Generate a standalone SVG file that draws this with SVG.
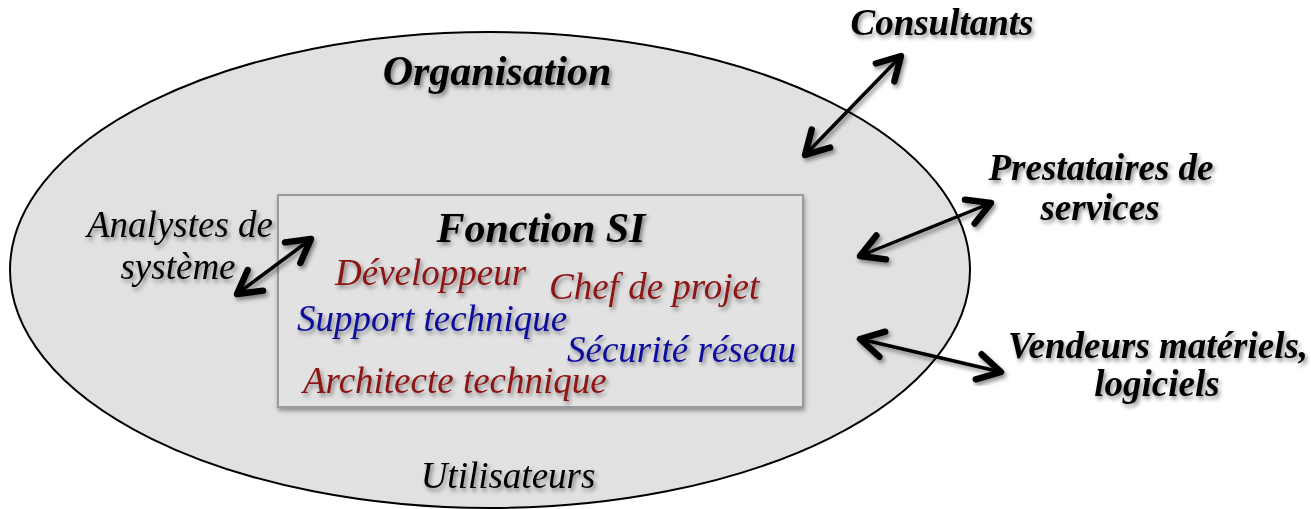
<svg xmlns="http://www.w3.org/2000/svg" width="1311" height="509" viewBox="0 0 1311 509">
<style>
.t{font-family:"Liberation Serif","Times New Roman",serif;font-style:italic;font-size:37px;filter:url(#sh)}
.b{font-weight:bold}
.big{font-size:42px}
.red{fill:#8c1212}
.blue{fill:#0c0c9c}
.blk{fill:#000}
.arr{stroke:#000;stroke-width:3.5;fill:none;marker-start:url(#ah);marker-end:url(#ah);filter:url(#sh)}
</style>
<defs>
<filter id="sh" x="-20%" y="-40%" width="140%" height="180%">
<feDropShadow dx="2" dy="3" stdDeviation="2" flood-color="#000" flood-opacity="0.45"/>
</filter>
<filter id="rsh" x="-5%" y="-5%" width="110%" height="115%">
<feDropShadow dx="1" dy="3" stdDeviation="2" flood-color="#000" flood-opacity="0.35"/>
</filter>
<marker id="ah" markerUnits="userSpaceOnUse" markerWidth="40" markerHeight="40" refX="0" refY="0" viewBox="-22 -14 26 28" orient="auto-start-reverse" overflow="visible">
<path d="M-16,-9 L0,0 L-16,9" fill="none" stroke="#000" stroke-width="4.5" stroke-linecap="round" stroke-linejoin="round"/>
</marker>
</defs>
<g id="organisation">
<ellipse cx="490" cy="270" rx="480" ry="238" fill="#e1e1e1" stroke="#000" stroke-width="2"/>
<text class="t b big blk" x="497" y="85" text-anchor="middle">Organisation</text>
<text class="t blk" x="508" y="488" text-anchor="middle">Utilisateurs</text>
</g>
<g id="fonction-si">
<rect x="278" y="195" width="525" height="212" fill="#e2e2e2" stroke="#9a9a9a" stroke-width="2" filter="url(#rsh)"/>
<text class="t b big blk" x="541" y="242" text-anchor="middle">Fonction SI</text>
<text class="t red" x="335" y="285">Développeur</text>
<text class="t red" x="549" y="299">Chef de projet</text>
<text class="t blue" x="297" y="331">Support technique</text>
<text class="t blue" x="567" y="362">Sécurité réseau</text>
<text class="t red" x="303" y="393">Architecte technique</text>
</g>
<g id="analystes">
<text class="t blk" x="180" y="237" text-anchor="middle">Analystes de</text>
<text class="t blk" x="178" y="279" text-anchor="middle">système</text>
</g>
<g id="consultants">
<text class="t b blk" x="942" y="35" text-anchor="middle">Consultants</text>
</g>
<g id="prestataires">
<text class="t b blk" x="1101" y="180" text-anchor="middle">Prestataires de</text>
<text class="t b blk" x="1100" y="220" text-anchor="middle">services</text>
</g>
<g id="vendeurs">
<text class="t b blk" x="1158" y="358" text-anchor="middle">Vendeurs matériels,</text>
<text class="t b blk" x="1157" y="396" text-anchor="middle">logiciels</text>
</g>
<g id="connectors">
<line class="arr" x1="237" y1="294" x2="311" y2="239"/>
<line class="arr" x1="805" y1="155" x2="901" y2="56"/>
<line class="arr" x1="860" y1="256" x2="991" y2="203"/>
<line class="arr" x1="860" y1="339" x2="1001" y2="372"/>
</g>
</svg>
